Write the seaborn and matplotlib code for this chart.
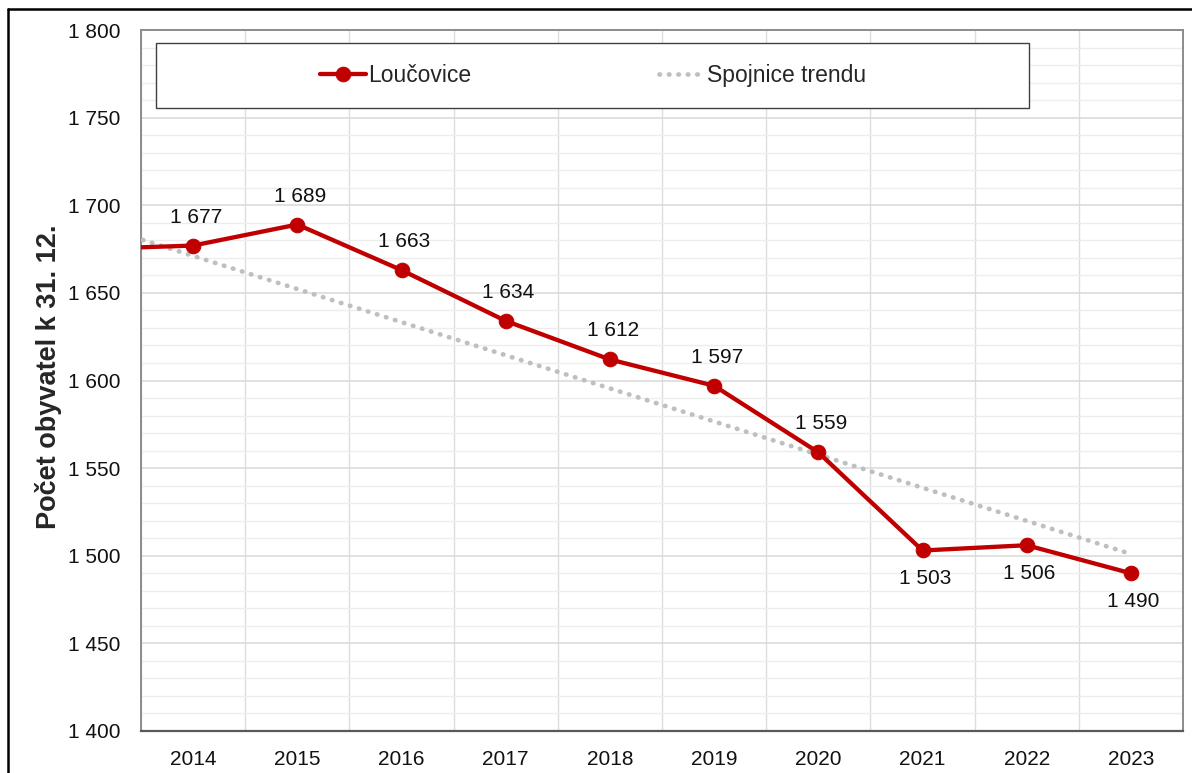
import numpy as np
import pandas as pd
import matplotlib
matplotlib.use("Agg")
import matplotlib.pyplot as plt
from matplotlib.patches import Rectangle
from matplotlib.lines import Line2D
from matplotlib.ticker import MultipleLocator, FixedLocator
import seaborn as sns

# Data (2013 lies just outside the visible range, the line runs in from the left edge)
years = [2013, 2014, 2015, 2016, 2017, 2018, 2019, 2020, 2021, 2022, 2023]
population = [1675, 1677, 1689, 1663, 1634, 1612, 1597, 1559, 1503, 1506, 1490]
shown_years = [2014, 2015, 2016, 2017, 2018, 2019, 2020, 2021, 2022, 2023]
trend_years = [2013, 2023]
trend_values = [1690, 1501]
y_ticks = [1400, 1450, 1500, 1550, 1600, 1650, 1700, 1750, 1800]

def fmt(v):
    return f"{v:,}".replace(",", " ")

df = pd.DataFrame({"year": years, "population": population})
df["pos"] = df["year"] - shown_years[0]
trend = pd.DataFrame({"year": trend_years, "value": trend_values})
trend["pos"] = trend["year"] - shown_years[0]

sns.set_style("white")
plt.rcParams["font.family"] = ["Liberation Sans", "DejaVu Sans"]

red = "#C00000"
fig = plt.figure(figsize=(11.92, 7.73), dpi=100)
ax = fig.add_axes([141 / 1192, 42 / 773, 1042 / 1192, 701 / 773])

sns.lineplot(data=trend, x="pos", y="value", ax=ax, color="#BFBFBF", linewidth=3.4,
             linestyle=(0, (0.1, 1.9)), dash_capstyle="round", label="Spojnice trendu",
             zorder=3)
sns.lineplot(data=df, x="pos", y="population", ax=ax, color=red, linewidth=3.1,
             marker="o", markersize=10.5, markeredgecolor=red, label="Loučovice", zorder=4)

# point labels
for _, r in df[df["year"].isin(shown_years)].iterrows():
    below = r["year"] >= 2021
    ax.annotate(fmt(int(r["population"])), (r["pos"], r["population"]),
                xytext=(2, -20 if below else 20.5), textcoords="offset points",
                ha="center", va="center", fontsize=15, color="#111111")

ax.set_xlim(-0.5, len(shown_years) - 0.5)
ax.set_ylim(1400, 1800)

ax.yaxis.set_major_locator(FixedLocator(y_ticks))
ax.set_yticklabels([fmt(v) for v in y_ticks])
ax.yaxis.set_minor_locator(MultipleLocator(10))
ax.xaxis.set_major_locator(FixedLocator(np.arange(len(shown_years))))
ax.set_xticklabels([str(y) for y in shown_years])
ax.xaxis.set_minor_locator(FixedLocator(np.arange(len(shown_years) + 1) - 0.5))

ax.tick_params(axis="y", which="both", length=0, pad=15, labelsize=15, labelcolor="#111111")
ax.tick_params(axis="x", which="major", length=0, pad=14, labelsize=15, labelcolor="#111111")
ax.tick_params(axis="x", which="minor", length=5, width=1.2, color="#595959", direction="out")

ax.grid(True, axis="y", which="major", color="#D9D9D9", linewidth=1.1)
ax.grid(True, axis="y", which="minor", color="#EDEDED", linewidth=1.0)
ax.grid(True, axis="x", which="minor", color="#DDDDDD", linewidth=1.0)
ax.grid(False, axis="x", which="major")
ax.set_axisbelow(True)

for side in ["top", "right", "left"]:
    ax.spines[side].set_color("#8C8C8C")
    ax.spines[side].set_linewidth(1.4)
ax.spines["bottom"].set_color("#595959")
ax.spines["bottom"].set_linewidth(1.6)

ax.set_xlabel("")
ax.set_ylabel("Počet obyvatel k 31. 12.", fontsize=19.5, fontweight="bold")
ax.yaxis.set_label_coords(-0.0757, 0.505)

# legend box and entries
ax.add_patch(Rectangle((0.0144, 0.8887), 0.8376, 0.0928, transform=ax.transAxes,
                       facecolor="white", edgecolor="#404040", linewidth=1.0, zorder=5))
handles, labels = ax.get_legend_handles_labels()
order = [labels.index("Loučovice"), labels.index("Spojnice trendu")]
leg = ax.legend([handles[i] for i in order], [labels[i] for i in order],
                loc="center", bbox_to_anchor=(0.434, 0.935), ncol=2, frameon=False,
                fontsize=16.5, handlelength=2.0, handletextpad=0.1, columnspacing=8.2)
leg.set_zorder(6)

# outer chart border
fig.add_artist(Line2D([8 / 1192, 1.0], [1 - 9 / 773, 1 - 9 / 773], color="black", linewidth=1.8))
fig.add_artist(Line2D([8 / 1192, 8 / 1192], [0.0, 1 - 9 / 773], color="black", linewidth=1.8))

fig.savefig("out.png", dpi=100)
